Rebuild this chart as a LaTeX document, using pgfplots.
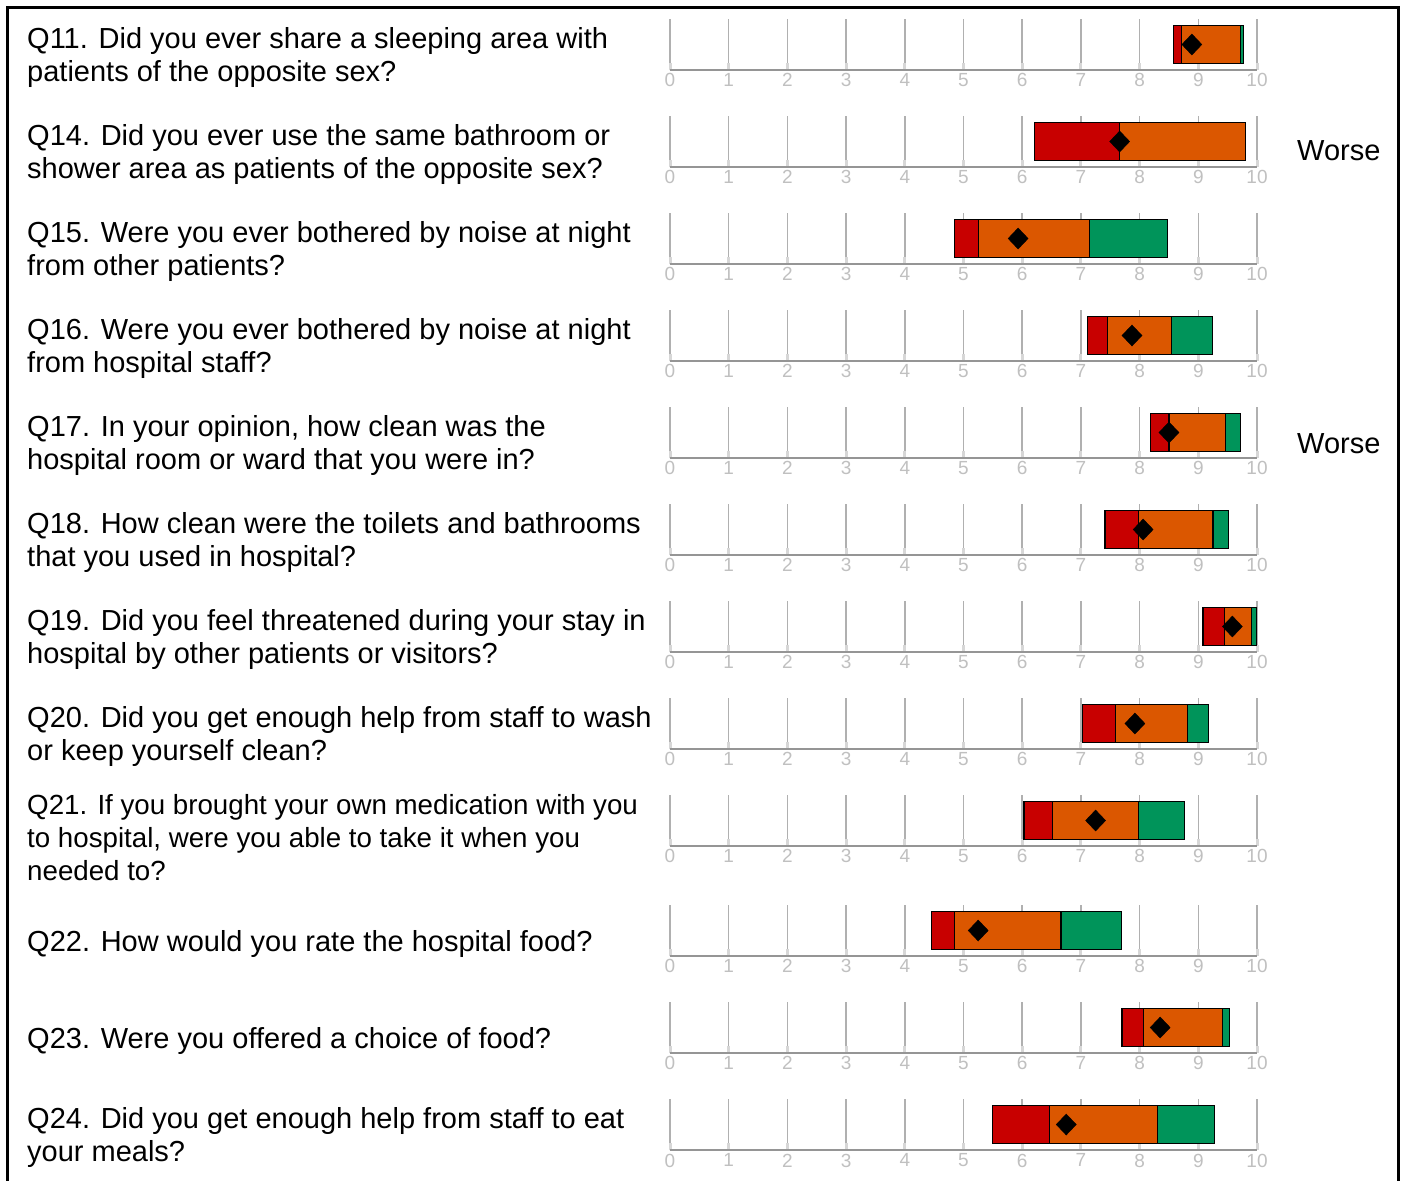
\documentclass[border=0pt]{standalone}
\usepackage{pgfplots}
\usepackage{pgfplotstable}
\pgfplotsset{compat=1.18}
\usepackage{fontspec}
\setmainfont{Liberation Sans}
\definecolor{cRed}{HTML}{C80000}
\definecolor{cOrange}{HTML}{DB5700}
\definecolor{cGreen}{HTML}{00945A}
\definecolor{gridgray}{HTML}{B0B0B0}
\definecolor{axisgray}{HTML}{959595}
\definecolor{labgray}{HTML}{C0C0C0}

\pgfplotstableread{
y       off   red   orange green dia
-44.5   8.58  0.13  1.01   0.05  8.89
-141.5  6.21  1.45  2.14   0.00  7.66
-238.5  4.84  0.41  1.89   1.34  5.93
-335.5  7.11  0.34  1.09   0.70  7.87
-432.5  8.19  0.31  0.97   0.25  8.50
-529.5  7.41  0.57  1.27   0.26  8.06
-626.5  9.08  0.36  0.47   0.08  9.58
-723.5  7.02  0.57  1.23   0.35  7.92
-820.5  6.03  0.48  1.47   0.79  7.25
-930.5  4.45  0.39  1.82   1.03  5.25
-1027.5 7.70  0.37  1.34   0.12  8.35
-1124.5 5.50  0.97  1.84   0.97  6.75
}\scores

\pgfplotsset{
  rowframe/.style={
    anchor=south west, width=587bp, height=51bp, scale only axis,
    xmin=0, xmax=10, ymin=0, ymax=1,
    axis x line=bottom, axis y line=none,
    x axis line style={-, draw=axisgray, line width=2.2bp},
    xtick={0,1,...,10}, ytick=\empty,
    xmajorgrids, major grid style={draw=gridgray, line width=1.5bp},
    tick align=inside, major tick length=7bp,
    tick style={draw=gridgray!50, line width=3bp},
    /pgf/number format/assume math mode=true,
    ticklabel style={font=\fontsize{19bp}{19bp}\selectfont, text=labgray, inner sep=3.5bp},
  },
}
\newcommand{\rowaxis}[1]{\begin{axis}[rowframe, at={(670bp,-#1bp)}]\end{axis}}

\begin{document}
\begin{tikzpicture}[x=1bp, y=1bp]
\useasboundingbox (0,0) rectangle (1404,-1180);
\fill[white] (0,0) rectangle (1404,-1180);

\rowaxis{70}
\rowaxis{167}
\rowaxis{264}
\rowaxis{361}
\rowaxis{458}
\rowaxis{555}
\rowaxis{652}
\rowaxis{749}
\rowaxis{846}
\rowaxis{956}
\rowaxis{1053}
\rowaxis{1150}

\begin{axis}[at={(670bp,-1180bp)}, anchor=south west, width=587bp, height=1180bp,
  scale only axis, xmin=0, xmax=10, ymin=-1180, ymax=0, hide axis,
  enlargelimits=false, clip=false, xbar stacked, bar width=38bp]
\addplot[draw=none, fill=none] table[x=off, y=y]{\scores};
\addplot[draw=black, line width=1.1bp, fill=cRed] table[x=red, y=y]{\scores};
\addplot[draw=black, line width=1.1bp, fill=cOrange] table[x=orange, y=y]{\scores};
\addplot[draw=black, line width=1.1bp, fill=cGreen] table[x=green, y=y]{\scores};
\end{axis}

\begin{axis}[at={(670bp,-1180bp)}, anchor=south west, width=587bp, height=1180bp,
  scale only axis, xmin=0, xmax=10, ymin=-1180, ymax=0, hide axis,
  enlargelimits=false, clip=false]
\addplot[only marks, mark=diamond*, mark size=10.5bp,
  mark options={fill=black, draw=black, xscale=1.27}] table[x=dia, y=y]{\scores};
\end{axis}

\begin{scope}[every node/.style={anchor=base west, inner sep=0pt, font=\fontsize{29bp}{33bp}\selectfont}]
\node at (27,-48.4) {Q11. Did you ever share a sleeping area with};
\node at (27,-81.4) {patients of the opposite sex?};
\node at (27,-145.4) {Q14. Did you ever use the same bathroom or};
\node at (27,-178.4) {shower area as patients of the opposite sex?};
\node at (27,-242.4) {Q15. Were you ever bothered by noise at night};
\node at (27,-275.4) {from other patients?};
\node at (27,-339.4) {Q16. Were you ever bothered by noise at night};
\node at (27,-372.4) {from hospital staff?};
\node at (27,-436.4) {Q17. In your opinion, how clean was the};
\node at (27,-469.4) {hospital room or ward that you were in?};
\node at (27,-533.4) {Q18. How clean were the toilets and bathrooms};
\node at (27,-566.4) {that you used in hospital?};
\node at (27,-630.4) {Q19. Did you feel threatened during your stay in};
\node at (27,-663.4) {hospital by other patients or visitors?};
\node at (27,-727.4) {Q20. Did you get enough help from staff to wash};
\node at (27,-760.4) {or keep yourself clean?};
\node[font=\fontsize{27.7bp}{33bp}\selectfont] at (27,-814.4) {Q21. If you brought your own medication with you};
\node[font=\fontsize{27.7bp}{33bp}\selectfont] at (27,-847.4) {to hospital, were you able to take it when you};
\node[font=\fontsize{27.7bp}{33bp}\selectfont] at (27,-880.4) {needed to?};
\node at (27,-951.4) {Q22. How would you rate the hospital food?};
\node at (27,-1048.4) {Q23. Were you offered a choice of food?};
\node at (27,-1128.4) {Q24. Did you get enough help from staff to eat};
\node at (27,-1161.4) {your meals?};
\node at (1297,-160.5) {Worse};
\node at (1297,-453.4) {Worse};
\end{scope}

\draw[line width=2.5bp] (7.5,-7.5) rectangle (1398.5,-1200);
\end{tikzpicture}
\end{document}
